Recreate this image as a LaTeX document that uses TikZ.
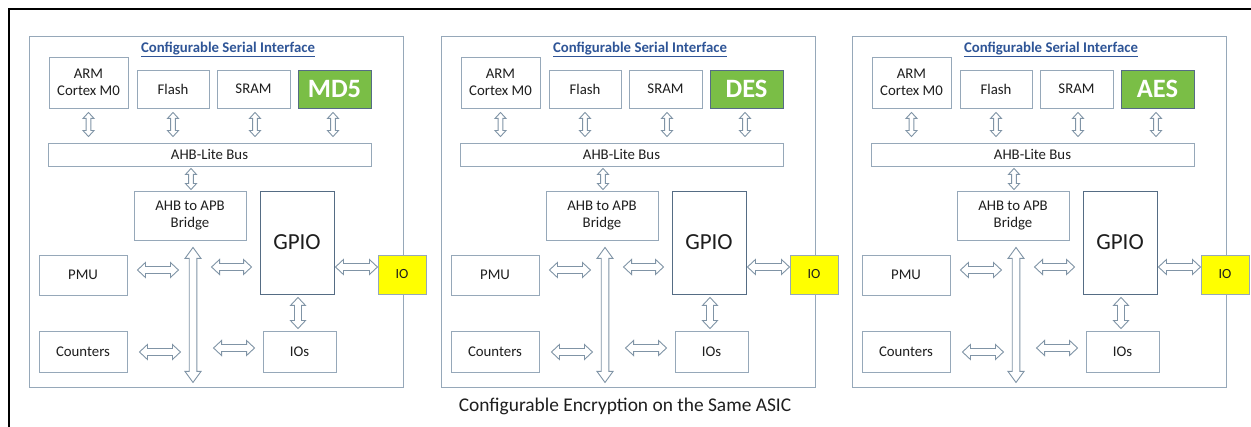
\documentclass[tikz,border=0pt]{standalone}
\usepackage{fontspec}
\setmainfont{Carlito}
\usetikzlibrary{calc}
\definecolor{boxline}{RGB}{150,168,185}
\definecolor{gpioline}{RGB}{85,108,132}
\definecolor{arrline}{RGB}{128,148,166}
\definecolor{titleblue}{RGB}{47,85,151}
\definecolor{encgreen}{RGB}{122,190,70}
\definecolor{ioyellow}{RGB}{255,255,0}
\definecolor{txt}{RGB}{30,30,30}
\tikzset{
  blk/.style={draw=boxline, line width=0.9pt, fill=white, inner sep=0pt, align=center,
    text=txt, font=\fontsize{14.8}{17.5}\selectfont},
  encbox/.style={blk, draw=gpioline, fill=encgreen, text=white, font=\fontsize{26.5}{30}\selectfont\bfseries},
  iobox/.style={blk, fill=ioyellow, font=\fontsize{14}{16}\selectfont},
  gpiobox/.style={blk, draw=gpioline, font=\fontsize{23}{27}\selectfont},
  panelframe/.style={draw=boxline, line width=1pt, inner sep=0pt},
  paneltitle/.style={text=titleblue, font=\fontsize{14.8}{17}\selectfont\bfseries, inner sep=0pt},
  blockarrow/.style={draw=arrline, line width=0.9pt, fill=white, line join=miter},
}
% horizontal hollow double arrow: #1 start, #2 end (x only), #3 head half, #4 shaft half, #5 head length
\newcommand\HArr[5]{%
  \draw[blockarrow] let \p1=#1, \p2=#2 in
    (\x1,\y1) -- ({\x1+#5},{\y1+#3}) -- ({\x1+#5},{\y1+#4}) -- ({\x2-#5},{\y1+#4}) --
    ({\x2-#5},{\y1+#3}) -- (\x2,\y1) -- ({\x2-#5},{\y1-#3}) -- ({\x2-#5},{\y1-#4}) --
    ({\x1+#5},{\y1-#4}) -- ({\x1+#5},{\y1-#3}) -- cycle;}
% vertical hollow double arrow: #1 top start, #2 bottom end (y only)
\newcommand\VArr[5]{%
  \draw[blockarrow] let \p1=#1, \p2=#2 in
    (\x1,\y1) -- ({\x1+#3},{\y1-#5}) -- ({\x1+#4},{\y1-#5}) -- ({\x1+#4},{\y2+#5}) --
    ({\x1+#3},{\y2+#5}) -- (\x1,\y2) -- ({\x1-#3},{\y2+#5}) -- ({\x1-#4},{\y2+#5}) --
    ({\x1-#4},{\y1-#5}) -- ({\x1-#3},{\y1-#5}) -- cycle;}
\newcommand\DrawPanel[2]{%
  \node[panelframe, minimum width=374pt, minimum height=351pt] (#1-frame) at (216,212.5) {};
  \node[paneltitle] (#1-title) at (228,49.5) {\underline{Configurable Serial Interface}};
  \node[blk, minimum width=79pt, minimum height=51pt] (#1-arm) at (88.5,82.5) {ARM\\Cortex M0};
  \node[blk, minimum width=72pt, minimum height=38pt] (#1-flash) at (173,89) {Flash};
  \node[blk, minimum width=73pt, minimum height=38pt] (#1-sram) at (253.5,89) {SRAM};
  \node[encbox, minimum width=73pt, minimum height=38pt] (#1-enc) at (334.5,89) {#2};
  \node[blk, minimum width=323pt, minimum height=23pt] (#1-bus) at (209.5,154.5) {AHB-Lite Bus};
  \node[blk, minimum width=112pt, minimum height=49pt] (#1-bridge) at (190,215.5) {AHB to APB\\Bridge};
  \node[gpiobox, minimum width=74pt, minimum height=103pt] (#1-gpio) at (297,242.5) {GPIO};
  \node[blk, minimum width=88pt, minimum height=40pt] (#1-pmu) at (83,275) {PMU};
  \node[blk, minimum width=88pt, minimum height=41pt] (#1-counters) at (83,351.5) {Counters};
  \node[blk, minimum width=73pt, minimum height=41pt] (#1-ios) at (299.5,351.5) {IOs};
  % arrows to bus
  \VArr{($(#1-arm.south)+(0,4)$)}{($(#1-arm.south |- #1-bus.north)+(0,-6)$)}{5.5pt}{2.4pt}{6pt}
  \VArr{($(#1-flash.south)+(0,4)$)}{($(#1-flash.south |- #1-bus.north)+(0,-6)$)}{5.5pt}{2.4pt}{6pt}
  \VArr{($(#1-sram.south)+(1.5,4)$)}{($(#1-sram.south |- #1-bus.north)+(0,-6)$)}{5.5pt}{2.4pt}{6pt}
  \VArr{($(#1-enc.south)+(-1.5,4)$)}{($(#1-enc.south |- #1-bus.north)+(0,-6)$)}{5.5pt}{2.4pt}{6pt}
  \VArr{($(#1-bridge.north |- #1-bus.south)+(1,2)$)}{($(#1-bridge.north)+(1,-1)$)}{5.5pt}{2.4pt}{6pt}
  % long vertical APB arrow
  \VArr{($(#1-bridge.south)+(3,7)$)}{($(#1-bridge.south)+(3,142)$)}{8pt}{3.8pt}{11pt}
  % horizontal arrows
  \HArr{($(#1-pmu.east)+(10,-5)$)}{($(#1-pmu.east)+(51,-5)$)}{7.5pt}{3.5pt}{8pt}
  \HArr{($(#1-gpio.west)+(-48,24.5)$)}{($(#1-gpio.west)+(-8,24.5)$)}{7.5pt}{3.5pt}{8pt}
  \HArr{($(#1-counters.east)+(12,0.5)$)}{($(#1-counters.east)+(53,0.5)$)}{7.5pt}{3.5pt}{8pt}
  \HArr{($(#1-ios.west)+(-49,-3.5)$)}{($(#1-ios.west)+(-8,-3.5)$)}{7.5pt}{3.5pt}{8pt}
  \HArr{($(#1-gpio.east)+(1,24.5)$)}{($(#1-gpio.east)+(43,24.5)$)}{7.5pt}{3.5pt}{8pt}
  \VArr{($(#1-gpio.south)+(1,3)$)}{($(#1-ios.north)+(-1.5,-2)$)}{7.5pt}{3.5pt}{8pt}
  \node[iobox, minimum width=48pt, minimum height=39pt] (#1-io) at (402,274.5) {IO};
}
\begin{document}
\begin{tikzpicture}[x=1pt, y=-1pt]
  \useasboundingbox (0,0) rectangle (1251,427);
  \fill[white] (0,0) rectangle (1251,427);
  \draw[line width=2pt, black] (8.5,428) -- (8.5,9.5) -- (1252,9.5);
  \begin{scope}[xshift=0pt]
    \DrawPanel{pa}{MD5}
  \end{scope}
  \begin{scope}[xshift=412pt]
    \DrawPanel{pb}{DES}
  \end{scope}
  \begin{scope}[xshift=823pt]
    \DrawPanel{pc}{AES}
  \end{scope}
  \node[text=txt, font=\fontsize{19.4}{23}\selectfont, inner sep=0pt] (caption) at (625,406) {Configurable Encryption on the Same ASIC};
\end{tikzpicture}
\end{document}
